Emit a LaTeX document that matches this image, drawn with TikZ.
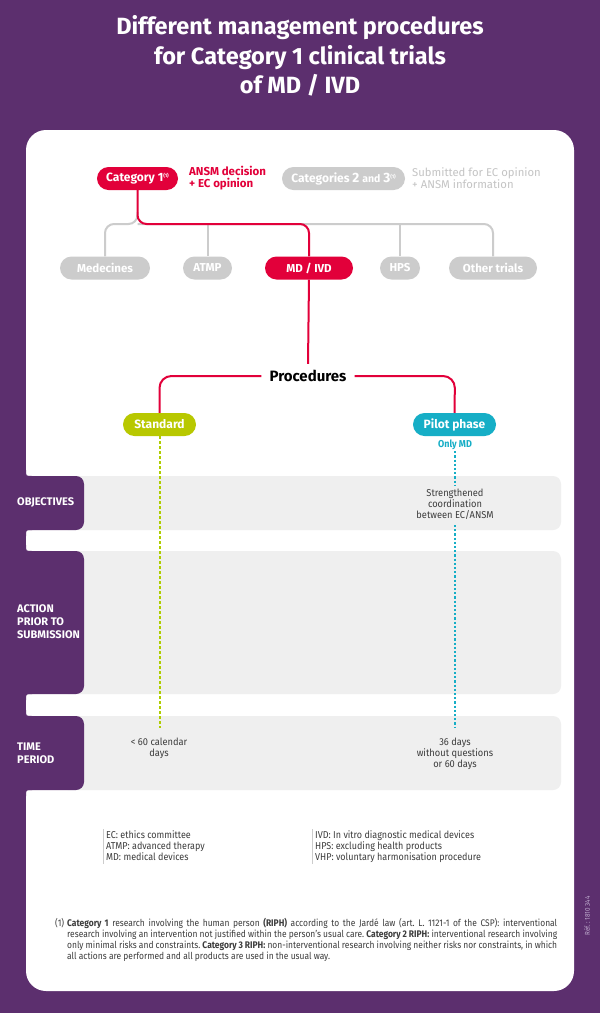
\documentclass[tikz,border=0pt]{standalone}
\usepackage{fontspec}
\setmainfont{Fira Sans}
\newfontfamily\condf[FakeStretch=0.9]{Fira Sans}
\newfontfamily\bodyf[FakeStretch=0.93]{Fira Sans}
\newfontfamily\footf[FakeStretch=0.88]{Fira Sans}
\frenchspacing
\definecolor{pp}{RGB}{92,47,110}
\definecolor{redc}{RGB}{226,0,58}
\definecolor{gpill}{RGB}{204,204,204}
\definecolor{gtext}{RGB}{196,196,196}
\definecolor{greenc}{RGB}{184,200,0}
\definecolor{gdotc}{RGB}{175,205,0}
\definecolor{cyanc}{RGB}{22,174,198}
\definecolor{grow}{RGB}{239,239,239}
\definecolor{txt}{RGB}{60,60,60}
\definecolor{lav}{RGB}{190,170,205}
\newcommand{\supone}{\raisebox{3.5pt}{\fontsize{5}{5}\selectfont(1)}}
\tikzset{
  pill/.style={rounded corners=11.5pt, minimum height=23pt, inner sep=0pt, text=white, font=\fontsize{12}{14}\selectfont\bfseries},
  pilltwo/.style={pill, fill=gpill, font=\fontsize{11.5}{13}\selectfont\bfseries},
  redline/.style={draw=redc, line width=2pt},
  grayline/.style={draw=gpill, line width=2pt},
  gdot/.style={draw=gdotc, line width=2pt, dash pattern=on 3pt off 2pt},
  cdot/.style={draw=cyanc, line width=1.6pt, dash pattern=on 2.2pt off 2pt},
  rowbox/.style={fill=grow, rounded corners=8pt},
  tabbox/.style={fill=pp, rounded corners=8pt},
  rowlabel/.style={anchor=west, text=white, align=left, inner sep=0pt, font=\fontsize{11}{13}\selectfont\bfseries},
  body/.style={text=txt, align=center, inner sep=0pt, font=\fontsize{10}{11}\selectfont\bodyf},
  legend/.style={text=txt, align=left, anchor=north west, inner sep=0pt, font=\fontsize{10}{11}\selectfont\condf},
  legbar/.style={draw=gpill, line width=0.8pt},
}
\begin{document}
\begin{tikzpicture}[x=1pt,y=-1pt]
\useasboundingbox (0,0) rectangle (600,1013);
\fill[pp] (0,0) rectangle (600,1013);
\fill[white, rounded corners=20pt] (26,130) rectangle (574,991);

% title
\node[text=white, align=center, font=\fontsize{23.5}{29.5}\selectfont\bfseries] (title) at (300,56) {Different management procedures\\for Category 1 clinical trials\\of MD / IVD};

% categories
\node[pill, fill=redc, minimum width=81pt] (cat1) at (137.5,178.5) {Category 1\supone};
\node[anchor=west, text=redc, align=left, inner sep=0pt, font=\fontsize{11.5}{12}\selectfont\bfseries] (cat1txt) at (189,178.5) {ANSM decision\\+ EC opinion};
\node[pill, fill=gpill, minimum width=123pt] (cat23) at (343.5,178.5) {Categories {\fontsize{13.5}{13}\selectfont 2} {\fontsize{10.5}{10}\selectfont and} {\fontsize{13.5}{13}\selectfont 3}\supone};
\node[anchor=west, text=gtext, align=left, inner sep=0pt, font=\fontsize{11.3}{12}\selectfont] (cat23txt) at (412,178.5) {Submitted for EC opinion\\+ ANSM information};

% second row
\node[pilltwo, minimum width=90pt] (med) at (105,268) {Medecines};
\node[pilltwo, minimum width=49pt] (atmp) at (207.5,268) {ATMP};
\node[pill, fill=redc, minimum width=88pt, font=\fontsize{11.5}{13}\selectfont\bfseries] (mdivd) at (309,268) {MD / IVD};
\node[pilltwo, minimum width=40pt] (hps) at (400,268) {HPS};
\node[pilltwo, minimum width=88pt] (oth) at (493,268) {Other trials};

\coordinate (jl) at (137.5,212);
\draw[grayline, rounded corners=9pt] (jl) -- (137.5,224) -- (105,224) -- (med.north);
\draw[grayline, rounded corners=9pt] (137.5,224) -- (493,224) -- (oth.north);
\draw[grayline] (207.5,224) -- (atmp.north);
\draw[grayline] (400,224) -- (hps.north);
\draw[redline, rounded corners=9pt] (cat1.south) -- (137.5,224) -- (309,224) -- (mdivd.north);

% procedures
\node[inner xsep=8pt, inner ysep=6pt, font=\fontsize{15}{15}\selectfont\bfseries] (proc) at (308,376) {Procedures};
\draw[redline] (mdivd.south) -- (proc.north);
\node[pill, fill=greenc, minimum width=73pt] (std) at (159.5,424.5) {Standard};
\node[pill, fill=cyanc, minimum width=83pt] (pilot) at (454.5,424.5) {Pilot phase};
\node[text=cyanc, inner sep=1pt, font=\fontsize{10}{11}\selectfont\bfseries\condf] (onlymd) at (455,445) {Only MD};
\draw[redline, rounded corners=12pt] (proc.west) -- (159.5,376) -- (std.north);
\draw[redline, rounded corners=12pt] (proc.east) -- (455,376) -- (pilot.north);

% rows
\fill[rowbox] (60,476) rectangle (561,530);
\fill[rowbox] (60,551) rectangle (561,694);
\fill[rowbox] (60,716) rectangle (561,790);
\foreach \t/\b in {476/530, 551/694, 716/790}{
  \fill[tabbox] (8,\t) rectangle (84,\b);
  \fill[pp] (26,\t-6) -- (26,\t) -- (32,\t) .. controls (26,\t) .. (26,\t-6) -- cycle;
  \fill[pp] (26,\b+6) -- (26,\b) -- (32,\b) .. controls (26,\b) .. (26,\b+6) -- cycle;
}
\node[rowlabel] (lobj) at (17,503) {OBJECTIVES};
\node[rowlabel] (lact) at (17,622) {ACTION\\PRIOR TO\\SUBMISSION};
\node[rowlabel] (ltime) at (17,753.5) {TIME\\PERIOD};

% dotted lines
\coordinate (gend) at (159.5,728);
\coordinate (c1) at (455,485);
\coordinate (c2) at (455,525);
\coordinate (c3) at (455,727);
\draw[gdot] (std.south) -- (gend);
\draw[cdot] (onlymd.south) -- (c1);
\draw[cdot] (c2) -- (c3);

\node[body] (objtxt) at (455,504) {Strengthened\\coordination\\between EC/ANSM};
\node[body] (stdtime) at (159,748.5) {< 60 calendar\\days};
\node[body] (pilottime) at (455,754) {36 days\\without questions\\or 60 days};

% legend
\draw[legbar] (103,829) -- (103,864);
\draw[legbar] (312,829) -- (312,864);
\node[legend] (leg1) at (106,830) {EC: ethics committee\\ATMP: advanced therapy\\MD: medical devices};
\node[legend] (leg2) at (315,830) {IVD: In vitro diagnostic medical devices\\HPS: excluding health products\\VHP: voluntary harmonisation procedure};

% footnote
\node[anchor=north west, inner sep=0pt, text=txt, font=\fontsize{9.6}{11}\selectfont\footf] (fnum) at (55,918) {(1)};
\node[anchor=north west, inner sep=0pt, text=txt, align=left, font=\fontsize{9.6}{11}\selectfont\footf] (fn) at (67,918) {%
\makebox[490pt][s]{\textbf{Category 1} research involving the human person \textbf{(RIPH)} according to the Jardé law (art. L. 1121-1 of the CSP): interventional}\\
\makebox[490pt][s]{research involving an intervention not justified within the person’s usual care. \textbf{Category 2 RIPH:} interventional research involving}\\
\makebox[490pt][s]{only minimal risks and constraints. \textbf{Category 3 RIPH:} non-interventional research involving neither risks nor constraints, in which}\\
all actions are performed and all products are used in the usual way.};

\node[rotate=90, text=lav, inner sep=0pt, font=\fontsize{7}{8}\selectfont\condf] (ref) at (587,916) {Réf. : 1810 344};
\end{tikzpicture}
\end{document}
